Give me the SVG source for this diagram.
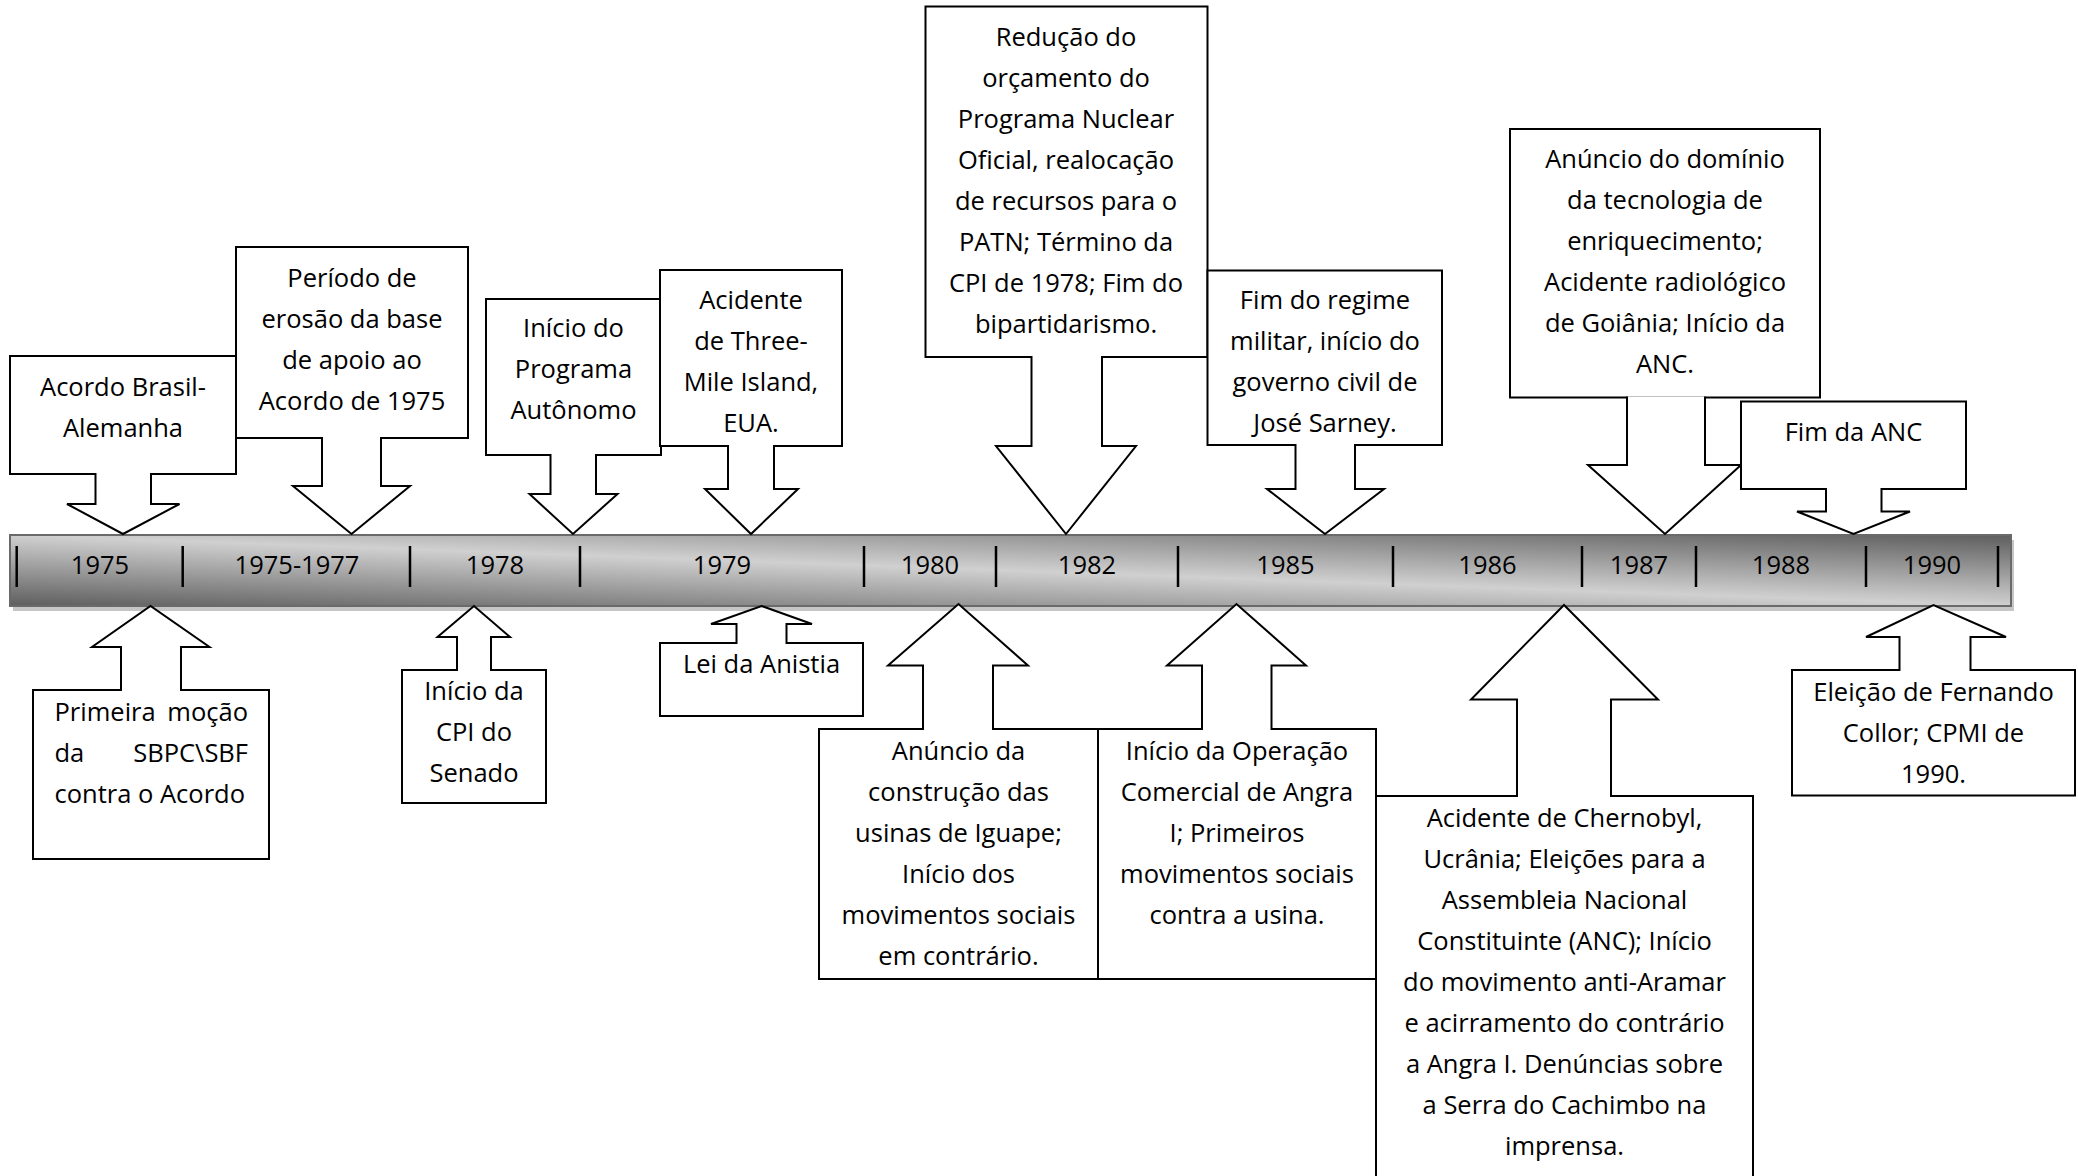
<svg xmlns="http://www.w3.org/2000/svg" width="2078" height="1176" viewBox="0 0 2078 1176">
<style>
.box{fill:#fff;stroke:#000;stroke-width:2}
.arr{fill:#fff;stroke:#000;stroke-width:2;stroke-linejoin:miter}
.t{font-family:"Open Sans","Noto Sans","Liberation Sans",sans-serif;font-size:25.5px;fill:#000;text-anchor:middle}
.l{text-anchor:start}
.r{text-anchor:end}
.tick{stroke:#000;stroke-width:2.5}
</style>
<defs>
<linearGradient id="barg" x1="0" y1="1" x2="1" y2="0">
<stop offset="0" stop-color="#5e5e5e"/>
<stop offset="0.5" stop-color="#d0d0d0"/>
<stop offset="1" stop-color="#5e5e5e"/>
</linearGradient>
</defs>
<rect width="2078" height="1176" fill="#fff"/>

<g id="timeline">
<rect x="13" y="540" width="2001" height="71" fill="#c6c6c6"/>
<rect x="10" y="535" width="2001" height="71" fill="url(#barg)" stroke="#6a6a6a" stroke-width="2"/>
<g class="tick">
<line x1="16.7" y1="546" x2="16.7" y2="587"/>
<line x1="182.7" y1="546" x2="182.7" y2="587"/>
<line x1="410" y1="546" x2="410" y2="587"/>
<line x1="580" y1="546" x2="580" y2="587"/>
<line x1="864" y1="546" x2="864" y2="587"/>
<line x1="996" y1="546" x2="996" y2="587"/>
<line x1="1178" y1="546" x2="1178" y2="587"/>
<line x1="1393" y1="546" x2="1393" y2="587"/>
<line x1="1582" y1="546" x2="1582" y2="587"/>
<line x1="1696" y1="546" x2="1696" y2="587"/>
<line x1="1866" y1="546" x2="1866" y2="587"/>
<line x1="1998" y1="546" x2="1998" y2="587"/>
</g>
<text class="t" x="100" y="574">1975</text>
<text class="t" x="297" y="574">1975-1977</text>
<text class="t" x="495" y="574">1978</text>
<text class="t" x="722" y="574">1979</text>
<text class="t" x="930" y="574">1980</text>
<text class="t" x="1087" y="574">1982</text>
<text class="t" x="1285.5" y="574">1985</text>
<text class="t" x="1487.5" y="574">1986</text>
<text class="t" x="1639" y="574">1987</text>
<text class="t" x="1781" y="574">1988</text>
<text class="t" x="1932" y="574">1990</text>
</g>

<g id="n1975a"><rect class="box" x="10" y="356" width="226" height="118"/>
<text class="t" x="123" y="396">Acordo Brasil-</text><text class="t" x="123" y="437">Alemanha</text></g>

<g id="n1975b"><rect class="box" x="236" y="247" width="232" height="191"/>
<text class="t" x="352" y="287">Período de</text><text class="t" x="352" y="328">erosão da base</text><text class="t" x="352" y="369">de apoio ao</text><text class="t" x="352" y="410">Acordo de 1975</text></g>

<g id="n1978a"><rect class="box" x="486" y="299" width="175" height="156"/>
<text class="t" x="573.5" y="337">Início do</text><text class="t" x="573.5" y="378">Programa</text><text class="t" x="573.5" y="419">Autônomo</text></g>

<g id="n1979a"><rect class="box" x="660" y="270" width="182" height="176"/>
<text class="t" x="751" y="309">Acidente</text><text class="t" x="751" y="350">de Three-</text><text class="t" x="751" y="391">Mile Island,</text><text class="t" x="751" y="432">EUA.</text></g>

<g id="n1982"><rect class="box" x="925.5" y="6.5" width="282" height="350.5"/>
<text class="t" x="1066" y="46">Redução do</text><text class="t" x="1066" y="87">orçamento do</text><text class="t" x="1066" y="128">Programa Nuclear</text><text class="t" x="1066" y="169">Oficial, realocação</text><text class="t" x="1066" y="210">de recursos para o</text><text class="t" x="1066" y="251">PATN; Término da</text><text class="t" x="1066" y="292">CPI de 1978; Fim do</text><text class="t" x="1066" y="333">bipartidarismo.</text></g>

<g id="n1985a"><rect class="box" x="1207.5" y="270.5" width="234.5" height="174.5"/>
<text class="t" x="1325" y="309">Fim do regime</text><text class="t" x="1325" y="350">militar, início do</text><text class="t" x="1325" y="391">governo civil de</text><text class="t" x="1325" y="432">José Sarney.</text></g>

<g id="n1987"><rect class="box" x="1510" y="129" width="310" height="268.5"/>
<text class="t" x="1665" y="168">Anúncio do domínio</text><text class="t" x="1665" y="209">da tecnologia de</text><text class="t" x="1665" y="250">enriquecimento;</text><text class="t" x="1665" y="291">Acidente radiológico</text><text class="t" x="1665" y="332">de Goiânia; Início da</text><text class="t" x="1665" y="373">ANC.</text></g>

<g id="n1975c"><rect class="box" x="33" y="690" width="236" height="169"/>
<text class="t l" x="54.5" y="721">Primeira</text><text class="t r" x="248" y="721">moção</text>
<text class="t l" x="54.5" y="762">da</text><text class="t r" x="248" y="762">SBPC\SBF</text>
<text class="t l" x="54.5" y="803">contra o Acordo</text></g>

<g id="n1978b"><rect class="box" x="402" y="670" width="144" height="133"/>
<text class="t" x="474" y="700">Início da</text><text class="t" x="474" y="741">CPI do</text><text class="t" x="474" y="782">Senado</text></g>

<g id="n1979b"><rect class="box" x="660" y="643" width="203" height="73"/>
<text class="t" x="761.5" y="673">Lei da Anistia</text></g>

<g id="n1980"><rect class="box" x="819" y="729" width="279" height="250"/>
<text class="t" x="958.5" y="760">Anúncio da</text><text class="t" x="958.5" y="801">construção das</text><text class="t" x="958.5" y="842">usinas de Iguape;</text><text class="t" x="958.5" y="883">Início dos</text><text class="t" x="958.5" y="924">movimentos sociais</text><text class="t" x="958.5" y="965">em contrário.</text></g>

<g id="n1985b"><rect class="box" x="1098" y="729" width="278" height="250"/>
<text class="t" x="1237" y="760">Início da Operação</text><text class="t" x="1237" y="801">Comercial de Angra</text><text class="t" x="1237" y="842">I; Primeiros</text><text class="t" x="1237" y="883">movimentos sociais</text><text class="t" x="1237" y="924">contra a usina.</text></g>

<g id="n1986"><rect class="box" x="1376" y="796" width="377" height="400"/>
<text class="t" x="1564.5" y="827">Acidente de Chernobyl,</text><text class="t" x="1564.5" y="868">Ucrânia; Eleições para a</text><text class="t" x="1564.5" y="909">Assembleia Nacional</text><text class="t" x="1564.5" y="950">Constituinte (ANC); Início</text><text class="t" x="1564.5" y="991">do movimento anti-Aramar</text><text class="t" x="1564.5" y="1032">e acirramento do contrário</text><text class="t" x="1564.5" y="1073">a Angra I. Denúncias sobre</text><text class="t" x="1564.5" y="1114">a Serra do Cachimbo na</text><text class="t" x="1564.5" y="1155">imprensa.</text></g>

<g id="n1990"><rect class="box" x="1792" y="670" width="283" height="125.5"/>
<text class="t" x="1933.5" y="701">Eleição de Fernando</text><text class="t" x="1933.5" y="742">Collor; CPMI de</text><text class="t" x="1933.5" y="783">1990.</text></g>

<g id="connectors">
<path class="arr" d="M95.5,473 V504 H67 L123,534 L179.5,504 H151 V473"/>
<path class="arr" d="M322,437 V486 H293 L351.5,534 L410,486 H381 V437"/>
<path class="arr" d="M550.5,454 V494 H529.5 L573,534 L617.5,494 H596 V454"/>
<path class="arr" d="M728,445 V489 H705 L751,534 L798,489 H774 V445"/>
<path class="arr" d="M1031.5,356 V446 H996 L1066,534 L1136,446 H1102 V356"/>
<path class="arr" d="M1295.5,444 V489 H1267 L1325,534 L1384,489 H1355 V444"/>
<path class="arr" d="M1627,396.5 V465 H1588 L1665,534 L1741,465 H1705 V396.5"/>
<path class="arr" d="M121,691 V647 H92 L150.5,606 L209.5,647 H181 V691"/>
<path class="arr" d="M457,671 V637 H437.5 L474,606 L510,637 H491 V671"/>
<path class="arr" d="M736.5,644 V624 H711 L761.5,606 L812,624 H786.5 V644"/>
<path class="arr" d="M923,730 V665.5 H888 L958.5,604 L1028,665.5 H993 V730"/>
<path class="arr" d="M1202,730 V665.5 H1167 L1236.5,604 L1306,665.5 H1271.5 V730"/>
<path class="arr" d="M1517,797 V699.5 H1471 L1564,605 L1658,699.5 H1611 V797"/>
<path class="arr" d="M1899.5,671 V637 H1866 L1933.5,605 L2006,637 H1970.5 V671"/>
</g>

<g id="n1988"><rect class="box" x="1741" y="401.5" width="225" height="87.5"/>
<text class="t" x="1853.5" y="441">Fim da ANC</text>
<path class="arr" d="M1826,488 V511.5 H1797 L1853.5,534 L1910,511.5 H1881.5 V488"/></g>
</svg>
